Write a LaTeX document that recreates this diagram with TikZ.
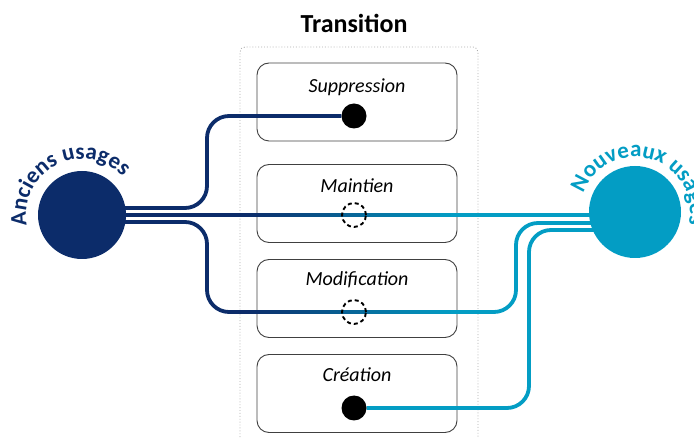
\documentclass[tikz,border=0pt]{standalone}
\usepackage{fontspec}
\setmainfont{Carlito}
\usetikzlibrary{decorations.text}
\definecolor{navyuse}{RGB}{12,44,106}
\definecolor{cyanuse}{RGB}{3,157,196}
\pgfdeclarelayer{frames}
\pgfdeclarelayer{flows}
\pgfsetlayers{frames,flows,main}
\tikzset{
  usage/.style={circle, inner sep=0pt, minimum size=#1},
  stagebox/.style={draw=black!75, line width=0.9pt, rounded corners=12pt,
    minimum width=200pt, minimum height=78pt},
  stagelabel/.style={font=\itshape\fontsize{20}{24}\selectfont, anchor=base, inner sep=0pt},
  fulldot/.style={circle, fill=black, inner sep=0pt, minimum size=25pt},
  keptdot/.style={circle, draw=black, line width=1.9pt, dash pattern=on 4pt off 3pt,
    inner sep=0pt, minimum size=24pt},
  flow/.style={line width=3.8pt, rounded corners=22pt},
}
% routes that change colour on the way
\newcommand\keptroute{(anciens) -- (anciens -| nouveaux)}
\newcommand\changedroute{([yshift=-7pt]anciens.center) -| (lbend |- dmodif)
  -- (rbendm |- dmodif) |- ([yshift=-11pt]nouveaux.center)}
\begin{document}
\begin{tikzpicture}[x=1pt, y=1pt]
  \useasboundingbox (0,0) rectangle (694,-438);
  % usages
  \node[usage=88pt, fill=navyuse] (anciens) at (82,-215) {};
  \node[usage=92pt, fill=cyanuse] (nouveaux) at (635,-212) {};
  \path[decorate, decoration={text along path, text align=center,
      text={|\fontsize{23}{27}\selectfont\bfseries\color{navyuse}|Anciens usages}}]
    ([shift={(208:56)}]anciens.center) arc[start angle=208, end angle=26, radius=56];
  \path[decorate, decoration={text along path, text align=center,
      text={|\fontsize{23}{27}\selectfont\bfseries\color{cyanuse}|Nouveaux usages}}]
    ([shift={(173:55)}]nouveaux.center) arc[start angle=173, end angle=-26, radius=55];
  \node[font=\bfseries\fontsize{26}{31}\selectfont, anchor=base] (titre) at (354,-33) {Transition};
  % dots
  \node[fulldot] (dsupp) at (354,-116) {};
  \node[keptdot] (dmaint) at (354,-215) {};
  \node[keptdot] (dmodif) at (354,-312) {};
  \node[fulldot] (dcreat) at (354,-408) {};
  \coordinate (lbend) at (207,0);
  \coordinate (rbendm) at (516,0);
  \coordinate (rbendc) at (529,0);
  % transition boxes
  \begin{pgfonlayer}{frames}
    \draw[gray!65, dotted, line width=0.9pt, rounded corners=5pt]
      (240,-440) |- (478,-47) -- (478,-440);
    \node[stagebox] (supp) at (357,-102) {};
    \node[stagebox] (maint) at (357,-203.5) {};
    \node[stagebox] (modif) at (357,-298.5) {};
    \node[stagebox] (creat) at (357,-393.5) {};
    \node[stagelabel] (lsupp) at ([yshift=-30pt]supp.north) {Suppression};
    \node[stagelabel] (lmaint) at ([yshift=-28pt]maint.north) {Maintien};
    \node[stagelabel] (lmodif) at ([yshift=-26pt]modif.north) {Modification};
    \node[stagelabel] (lcreat) at ([yshift=-27pt]creat.north) {Création};
  \end{pgfonlayer}
  % flows
  \begin{pgfonlayer}{flows}
    \draw[flow, navyuse] ([yshift=7pt]anciens.center) -| (lbend |- dsupp) -- (dsupp);
    \draw[flow, cyanuse] (dcreat) -- (rbendc |- dcreat) |- ([yshift=-18pt]nouveaux.center);
    \begin{scope}
      \clip (0,0) rectangle (250,-438);
      \draw[flow, navyuse] \keptroute;
      \draw[flow, navyuse] \changedroute;
    \end{scope}
    \begin{scope}
      \clip (450,0) rectangle (694,-438);
      \draw[flow, cyanuse] \keptroute;
      \draw[flow, cyanuse] \changedroute;
    \end{scope}
    \foreach \i in {0,...,19} {
      \pgfmathsetmacro\mix{5*\i+2.5}
      \begin{scope}
        \clip (250+10*\i,0) rectangle ++(10.4,-438);
        \draw[flow, cyanuse!\mix!navyuse] \keptroute;
        \draw[flow, cyanuse!\mix!navyuse] \changedroute;
      \end{scope}
    }
  \end{pgfonlayer}
\end{tikzpicture}
\end{document}
